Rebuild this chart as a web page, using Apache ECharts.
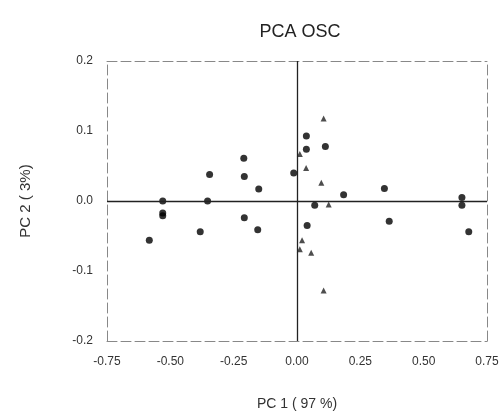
<!DOCTYPE html>
<html>
<head>
<meta charset="utf-8">
<script src="https://cdn.jsdelivr.net/npm/echarts@6/dist/echarts.min.js"></script>
<style>
  html, body { margin: 0; padding: 0; background: #fff; }
  #main { width: 504px; height: 416px; }
</style>
</head>
<body>
<div id="main"></div>
<script>
// samples shown as filled dots [PC1, PC2]
const dotPoints = [
  [-0.583, -0.056], [-0.53, 0.0], [-0.53, -0.017], [-0.53, -0.021],
  [-0.382, -0.044], [-0.345, 0.038], [-0.353, 0.0],
  [-0.21, 0.061], [-0.208, 0.035], [-0.208, -0.024],
  [-0.151, 0.017], [-0.155, -0.041], [-0.013, 0.040],
  [0.037, 0.093], [0.037, 0.074], [0.112, 0.078],
  [0.07, -0.006], [0.04, -0.035], [0.184, 0.009],
  [0.345, 0.018], [0.364, -0.029],
  [0.651, 0.005], [0.651, -0.006], [0.678, -0.044]
];
// samples shown as triangles
const triPoints = [
  [0.105, 0.118], [0.011, 0.067], [0.036, 0.047], [0.096, 0.026],
  [0.125, -0.005], [0.02, -0.056], [0.011, -0.069], [0.056, -0.074],
  [0.105, -0.128]
];
const xTicks = [-0.75, -0.5, -0.25, 0, 0.25, 0.5, 0.75];
const yTicks = [-0.2, -0.1, 0, 0.1, 0.2];

const chart = echarts.init(document.getElementById('main'));
const font = 'Liberation Sans';
const frameLine = {show: true, onZero: false, lineStyle: {color: '#888', width: 1, type: [10, 4]}};

chart.setOption({
  animation: false,
  title: {
    text: 'PCA OSC',
    left: 295,
    textAlign: 'center',
    top: 18,
    textStyle: {fontFamily: font, fontSize: 18, fontWeight: 'normal', color: '#222'}
  },
  grid: {left: 107, right: 17, top: 61, bottom: 73},
  xAxis: [
    {
      type: 'value', min: -0.75, max: 0.75, interval: 0.25,
      name: 'PC 1 ( 97 %)', nameLocation: 'middle', nameGap: 56,
      nameTextStyle: {fontFamily: font, fontSize: 14, color: '#333'},
      axisLine: frameLine, axisTick: {show: false}, splitLine: {show: false},
      axisLabel: {
        fontFamily: font, fontSize: 12, color: '#333', margin: 15,
        formatter: v => xTicks.includes(+v.toFixed(2)) ? v.toFixed(2) : ''
      }
    },
    {
      type: 'value', position: 'top', min: -0.75, max: 0.75,
      axisLine: frameLine, axisTick: {show: false}, axisLabel: {show: false}, splitLine: {show: false}
    }
  ],
  yAxis: [
    {
      type: 'value', min: -0.2, max: 0.2, interval: 0.1,
      name: 'PC 2 ( 3%)', nameLocation: 'middle', nameGap: 74,
      nameTextStyle: {fontFamily: font, fontSize: 15, color: '#333'},
      axisLine: frameLine, axisTick: {show: false}, splitLine: {show: false},
      axisLabel: {
        fontFamily: font, fontSize: 12, color: '#333', margin: 14,
        formatter: v => yTicks.includes(+v.toFixed(1)) ? v.toFixed(1) : ''
      }
    },
    {
      type: 'value', position: 'right', min: -0.2, max: 0.2,
      axisLine: frameLine, axisTick: {show: false}, axisLabel: {show: false}, splitLine: {show: false}
    }
  ],
  series: [
    {
      type: 'scatter',
      data: dotPoints,
      symbol: 'circle',
      symbolSize: 7,
      itemStyle: {color: '#000'},
      z: 3,
      markLine: {
        silent: true,
        symbol: 'none',
        label: {show: false},
        lineStyle: {color: '#222', width: 1.3, type: 'solid'},
        data: [{xAxis: 0}, {yAxis: 0}]
      }
    },
    {
      type: 'scatter',
      data: triPoints,
      symbol: 'triangle',
      symbolSize: 6,
      itemStyle: {color: '#222'},
      z: 3
    }
  ]
});
</script>
</body>
</html>
